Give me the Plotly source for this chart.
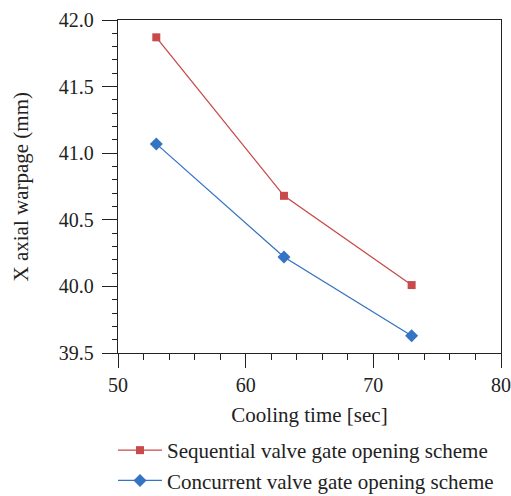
import plotly.graph_objects as go

cooling_time = [53, 63, 73]
sequential = [41.87, 40.68, 40.01]
concurrent = [41.07, 40.22, 39.63]
series_names = ["Sequential valve gate opening scheme", "Concurrent valve gate opening scheme"]
x_title = "Cooling time [sec]"
y_title = "X axial warpage (mm)"

red = "#c94a4a"
blue = "#3573c4"
font_family = "Liberation Serif, DejaVu Serif, serif"

fig = go.Figure()
fig.add_trace(go.Scatter(x=cooling_time, y=sequential, mode="lines+markers", name=series_names[0],
                         line=dict(color=red, width=1.3),
                         marker=dict(symbol="square", size=8, color=red)))
fig.add_trace(go.Scatter(x=cooling_time, y=concurrent, mode="lines+markers", name=series_names[1],
                         line=dict(color=blue, width=1.3),
                         marker=dict(symbol="diamond", size=10, color=blue)))

fig.update_layout(
    width=511, height=496,
    margin=dict(l=118, r=10, t=20, b=143, autoexpand=False),
    paper_bgcolor="white", plot_bgcolor="white",
    font=dict(family=font_family, size=21, color="#222"),
    showlegend=True,
    legend=dict(xref="container", yref="container", x=113/511, y=1 - 430/496,
                xanchor="left", yanchor="top", orientation="v", itemwidth=44,
                font=dict(size=21, color="#222"), bgcolor="rgba(0,0,0,0)", tracegroupgap=0),
    annotations=[dict(text=y_title, xref="paper", yref="paper", x=-98/383, y=0.5,
                      xanchor="center", yanchor="middle", textangle=-90, showarrow=False,
                      font=dict(size=21, color="#222"))],
)
fig.update_xaxes(range=[50, 80], dtick=10, tick0=50, showgrid=False, zeroline=False, automargin=False,
                 showline=True, linecolor="#222", linewidth=1.3, mirror=True,
                 ticks="outside", ticklen=14, tickwidth=1.3, tickcolor="#222",
                 minor=dict(dtick=2, ticks="outside", ticklen=6, tickcolor="#222", tickwidth=1.2, showgrid=False),
                 title=dict(text=x_title, standoff=12, font=dict(size=21)),
                 tickfont=dict(size=20))
fig.update_yaxes(range=[39.5, 42.0], dtick=0.5, tick0=39.5, tickformat=".1f", showgrid=False, zeroline=False,
                 automargin=False, ticklabelstandoff=4,
                 showline=True, linecolor="#222", linewidth=1.3, mirror=True,
                 ticks="outside", ticklen=15, tickwidth=1.3, tickcolor="#222",
                 minor=dict(dtick=0.1, ticks="outside", ticklen=5, tickcolor="#222", tickwidth=1.2, showgrid=False),
                 tickfont=dict(size=20))

fig.write_html("out.html")
